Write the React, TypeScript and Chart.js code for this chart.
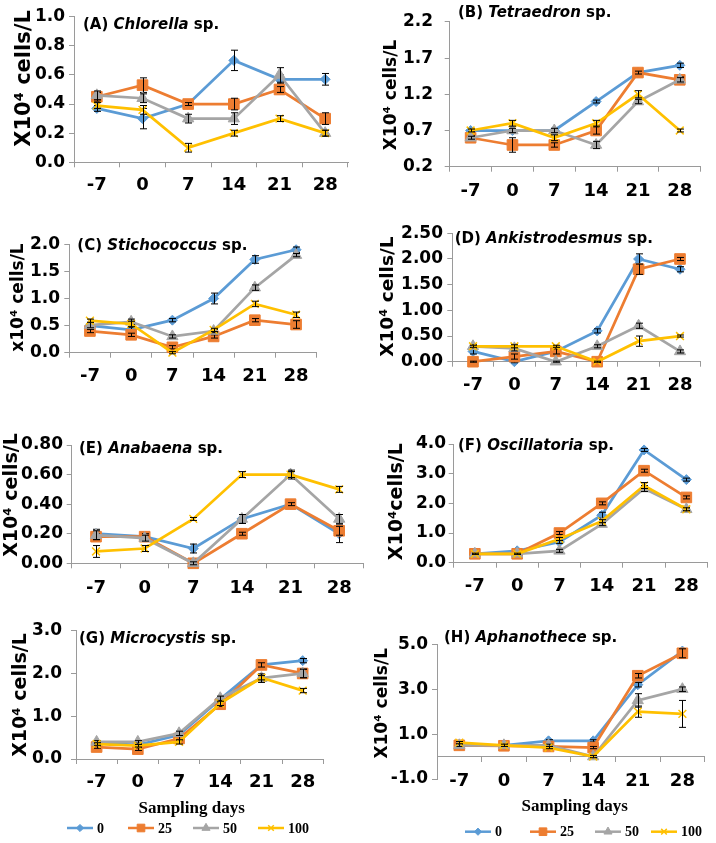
import React, { useEffect, useRef } from 'react';
import { Chart, registerables } from 'chart.js';

Chart.register(...registerables);

// ---------- categories / legend ----------
const days = ['-7', '0', '7', '14', '21', '28'];
const doses = ['0', '25', '50', '100'];

// ---------- (A) Chlorella sp. ----------
const chlorella0 = [0.37, 0.30, 0.40, 0.70, 0.57, 0.57];
const chlorella25 = [0.45, 0.53, 0.40, 0.40, 0.50, 0.30];
const chlorella50 = [0.46, 0.44, 0.30, 0.30, 0.60, 0.20];
const chlorella100 = [0.39, 0.36, 0.10, 0.20, 0.30, 0.20];
const chlorellaErr0 = [0.02, 0.07, 0.01, 0.07, 0.03, 0.04];
const chlorellaErr25 = [0.03, 0.05, 0.01, 0.04, 0.02, 0.04];
const chlorellaErr50 = [0.03, 0.03, 0.03, 0.04, 0.05, 0.02];
const chlorellaErr100 = [0.02, 0.03, 0.03, 0.02, 0.02, 0.02];
const chlorellaTicks = [0, 0.2, 0.4, 0.6, 0.8, 1.0];

// ---------- (B) Tetraedron sp. ----------
const tetraedron0 = [0.70, 0.70, 0.70, 1.10, 1.50, 1.60];
const tetraedron25 = [0.60, 0.50, 0.50, 0.70, 1.50, 1.40];
const tetraedron50 = [0.60, 0.70, 0.70, 0.50, 1.10, 1.40];
const tetraedron100 = [0.70, 0.80, 0.60, 0.80, 1.20, 0.70];
const tetraedronErr0 = [0.02, 0.02, 0.02, 0.02, 0.02, 0.03];
const tetraedronErr25 = [0.03, 0.10, 0.03, 0.05, 0.02, 0.04];
const tetraedronErr50 = [0.02, 0.03, 0.03, 0.05, 0.03, 0.03];
const tetraedronErr100 = [0.02, 0.04, 0.04, 0.04, 0.05, 0.02];
const tetraedronTicks = [0.2, 0.7, 1.2, 1.7, 2.2];

// ---------- (C) Stichococcus sp. ----------
const stichococcus0 = [0.50, 0.42, 0.60, 1.00, 1.72, 1.90];
const stichococcus25 = [0.40, 0.33, 0.10, 0.30, 0.60, 0.52];
const stichococcus50 = [0.51, 0.57, 0.30, 0.40, 1.20, 1.80];
const stichococcus100 = [0.59, 0.53, 0.00, 0.42, 0.90, 0.70];
const stichococcusErr0 = [0.05, 0.05, 0.03, 0.10, 0.07, 0.05];
const stichococcusErr25 = [0.03, 0.03, 0.03, 0.03, 0.03, 0.07];
const stichococcusErr50 = [0.05, 0.05, 0.03, 0.03, 0.05, 0.03];
const stichococcusErr100 = [0.03, 0.05, 0.02, 0.03, 0.05, 0.05];
const stichococcusTicks = [0, 0.5, 1.0, 1.5, 2.0];

// ---------- (D) Ankistrodesmus sp. ----------
const ankistrodesmus0 = [0.20, 0.00, 0.20, 0.60, 2.00, 1.80];
const ankistrodesmus25 = [0.00, 0.10, 0.20, 0.00, 1.80, 2.00];
const ankistrodesmus50 = [0.30, 0.26, 0.00, 0.30, 0.70, 0.20];
const ankistrodesmus100 = [0.30, 0.30, 0.30, 0.00, 0.40, 0.50];
const ankistrodesmusErr0 = [0.05, 0.02, 0.02, 0.04, 0.10, 0.05];
const ankistrodesmusErr25 = [0.01, 0.05, 0.05, 0.01, 0.10, 0.03];
const ankistrodesmusErr50 = [0.03, 0.05, 0.01, 0.03, 0.05, 0.03];
const ankistrodesmusErr100 = [0.02, 0.03, 0.02, 0.01, 0.10, 0.02];
const ankistrodesmusTicks = [0, 0.5, 1.0, 1.5, 2.0, 2.5];

// ---------- (E) Anabaena sp. ----------
const anabaena0 = [0.20, 0.18, 0.10, 0.30, 0.40, 0.20];
const anabaena25 = [0.18, 0.18, 0.00, 0.20, 0.40, 0.22];
const anabaena50 = [0.19, 0.17, 0.00, 0.30, 0.60, 0.30];
const anabaena100 = [0.08, 0.10, 0.30, 0.60, 0.60, 0.50];
const anabaenaErr0 = [0.03, 0.02, 0.03, 0.03, 0.02, 0.06];
const anabaenaErr25 = [0.02, 0.02, 0.01, 0.01, 0.01, 0.03];
const anabaenaErr50 = [0.03, 0.02, 0.01, 0.03, 0.03, 0.03];
const anabaenaErr100 = [0.04, 0.02, 0.01, 0.02, 0.02, 0.02];
const anabaenaTicks = [0, 0.2, 0.4, 0.6, 0.8];

// ---------- (F) Oscillatoria sp. ----------
const oscillatoria0 = [0.30, 0.40, 0.70, 1.60, 3.80, 2.80];
const oscillatoria25 = [0.30, 0.30, 1.00, 2.00, 3.10, 2.20];
const oscillatoria50 = [0.30, 0.30, 0.40, 1.30, 2.50, 1.80];
const oscillatoria100 = [0.30, 0.30, 0.80, 1.40, 2.60, 1.80];
const oscillatoriaErr0 = [0.03, 0.03, 0.05, 0.10, 0.05, 0.05];
const oscillatoriaErr25 = [0.03, 0.03, 0.05, 0.05, 0.05, 0.05];
const oscillatoriaErr50 = [0.02, 0.02, 0.05, 0.05, 0.10, 0.05];
const oscillatoriaErr100 = [0.02, 0.02, 0.05, 0.05, 0.10, 0.05];
const oscillatoriaTicks = [0, 1, 2, 3, 4];

// ---------- (G) Microcystis sp. ----------
const microcystis0 = [0.37, 0.33, 0.56, 1.40, 2.20, 2.30];
const microcystis25 = [0.28, 0.23, 0.48, 1.28, 2.20, 2.00];
const microcystis50 = [0.40, 0.40, 0.60, 1.42, 1.89, 2.00];
const microcystis100 = [0.35, 0.31, 0.40, 1.30, 1.90, 1.60];
const microcystisErr0 = [0.03, 0.03, 0.05, 0.05, 0.05, 0.05];
const microcystisErr25 = [0.03, 0.03, 0.05, 0.05, 0.05, 0.10];
const microcystisErr50 = [0.03, 0.03, 0.05, 0.05, 0.10, 0.10];
const microcystisErr100 = [0.03, 0.03, 0.05, 0.05, 0.05, 0.05];
const microcystisTicks = [0, 1, 2, 3];

// ---------- (H) Aphanothece sp. ----------
const aphanothece0 = [0.50, 0.50, 0.70, 0.70, 3.20, 4.70];
const aphanothece25 = [0.50, 0.48, 0.45, 0.40, 3.60, 4.60];
const aphanothece50 = [0.50, 0.50, 0.50, 0.00, 2.50, 3.00];
const aphanothece100 = [0.62, 0.50, 0.40, 0.00, 2.00, 1.90];
const aphanotheceErr0 = [0.05, 0.05, 0.05, 0.05, 0.10, 0.10];
const aphanotheceErr25 = [0.05, 0.05, 0.05, 0.05, 0.10, 0.20];
const aphanotheceErr50 = [0.05, 0.05, 0.05, 0.05, 0.30, 0.10];
const aphanotheceErr100 = [0.05, 0.05, 0.05, 0.05, 0.25, 0.60];
const aphanotheceTicks = [-1, 1, 3, 5];

// ---------- styles ----------
const AXIS = '#9a9a9a';
const SANS = '"DejaVu Sans", sans-serif';
const SERIF = '"Liberation Serif", "Times New Roman", serif';
const seriesStyles = [
  { color: '#5B9BD5', pointStyle: 'rectRot', radius: 5, bw: 1 },
  { color: '#ED7D31', pointStyle: 'rect', radius: 7.5, bw: 1 },
  { color: '#A5A5A5', pointStyle: 'triangle', radius: 6.5, bw: 1 },
  { color: '#FFC000', pointStyle: 'crossRot', radius: 5.5, bw: 1.5 },
];

type PanelCfg = {
  letter: string; genus: string; yTitle: string;
  series: number[][]; errors: number[][]; ticks: number[]; decimals: number;
  box: number[]; plot: { left: number; right: number; top: number; bottom: number };
  yTickPad: number; xTickPad: number; title: number[]; yTitlePos: number[];
  xTitle?: number[]; legendY?: number; legendX?: number[]; zeroLine?: boolean;
};

const panels: PanelCfg[] = [
  { letter: '(A) ', genus: 'Chlorella', yTitle: 'X10⁴ cells/L',
    series: [chlorella0, chlorella25, chlorella50, chlorella100],
    errors: [chlorellaErr0, chlorellaErr25, chlorellaErr50, chlorellaErr100],
    ticks: chlorellaTicks, decimals: 1,
    box: [0, 0, 358, 200], plot: { left: 74, right: 348, top: 16.7, bottom: 162.3 },
    yTickPad: 4, xTickPad: 7, title: [83, 29.3], yTitlePos: [25, 78.5, 21] },
  { letter: '(B) ', genus: 'Tetraedron', yTitle: 'X10⁴ cells/L',
    series: [tetraedron0, tetraedron25, tetraedron50, tetraedron100],
    errors: [tetraedronErr0, tetraedronErr25, tetraedronErr50, tetraedronErr100],
    ticks: tetraedronTicks, decimals: 1,
    box: [358, 0, 358, 200], plot: { left: 449.7, right: 700.7, top: 13.3, bottom: 166.7 },
    yTickPad: 11.7, xTickPad: 9.2, title: [458, 16.7], yTitlePos: [392, 95, 17] },
  { letter: '(C) ', genus: 'Stichococcus', yTitle: 'x10⁴ cells/L',
    series: [stichococcus0, stichococcus25, stichococcus50, stichococcus100],
    errors: [stichococcusErr0, stichococcusErr25, stichococcusErr50, stichococcusErr100],
    ticks: stichococcusTicks, decimals: 1,
    box: [0, 200, 358, 200], plot: { left: 69.3, right: 316.7, top: 244.3, bottom: 352.7 },
    yTickPad: 4.3, xTickPad: 8.2, title: [77.3, 250], yTitlePos: [18.3, 297.5, 17] },
  { letter: '(D) ', genus: 'Ankistrodesmus', yTitle: 'X10⁴ cells/L',
    series: [ankistrodesmus0, ankistrodesmus25, ankistrodesmus50, ankistrodesmus100],
    errors: [ankistrodesmusErr0, ankistrodesmusErr25, ankistrodesmusErr50, ankistrodesmusErr100],
    ticks: ankistrodesmusTicks, decimals: 2,
    box: [358, 200, 358, 200], plot: { left: 452.3, right: 700.7, top: 233.3, bottom: 361.7 },
    yTickPad: 4.3, xTickPad: 7.5, title: [454.7, 243.3], yTitlePos: [387.7, 296.7, 18.5] },
  { letter: '(E) ', genus: 'Anabaena', yTitle: 'X10⁴ cells/L',
    series: [anabaena0, anabaena25, anabaena50, anabaena100],
    errors: [anabaenaErr0, anabaenaErr25, anabaenaErr50, anabaenaErr100],
    ticks: anabaenaTicks, decimals: 2,
    box: [0, 400, 372, 210], plot: { left: 71.7, right: 366, top: 445, bottom: 563.3 },
    yTickPad: 3.7, xTickPad: 8.9, title: [79, 452.7], yTitlePos: [11.7, 495, 19] },
  { letter: '(F) ', genus: 'Oscillatoria', yTitle: 'X10⁴cells/L',
    series: [oscillatoria0, oscillatoria25, oscillatoria50, oscillatoria100],
    errors: [oscillatoriaErr0, oscillatoriaErr25, oscillatoriaErr50, oscillatoriaErr100],
    ticks: oscillatoriaTicks, decimals: 1,
    box: [358, 400, 358, 210], plot: { left: 453.7, right: 711.5, top: 444, bottom: 562.7 },
    yTickPad: 2.7, xTickPad: 8.2, title: [458, 450], yTitlePos: [397.5, 501.7, 19] },
  { letter: '(G) ', genus: 'Microcystis', yTitle: 'X10⁴ cells/L',
    series: [microcystis0, microcystis25, microcystis50, microcystis100],
    errors: [microcystisErr0, microcystisErr25, microcystisErr50, microcystisErr100],
    ticks: microcystisTicks, decimals: 1,
    box: [0, 610, 358, 233], plot: { left: 76, right: 323.3, top: 630.7, bottom: 759 },
    yTickPad: 9, xTickPad: 7.5, title: [79, 643.3], yTitlePos: [20.8, 695, 19],
    xTitle: [191.7, 809], legendY: 828, legendX: [67, 128, 193, 258] },
  { letter: '(H) ', genus: 'Aphanothece', yTitle: 'X10⁴ cells/L',
    series: [aphanothece0, aphanothece25, aphanothece50, aphanothece100],
    errors: [aphanotheceErr0, aphanotheceErr25, aphanotheceErr50, aphanotheceErr100],
    ticks: aphanotheceTicks, decimals: 1,
    box: [358, 610, 358, 233], plot: { left: 437, right: 704.7, top: 644.3, bottom: 779 },
    yTickPad: 4, xTickPad: -8.1, title: [444, 641.7], yTitlePos: [383, 703.3, 17],
    xTitle: [574.7, 806.7], legendY: 831.7, legendX: [465, 530, 595, 651], zeroLine: true },
];

function drawMarker(ctx: CanvasRenderingContext2D, style: string, x: number, y: number, r: number, color: string, bw: number) {
  ctx.save();
  ctx.fillStyle = color;
  ctx.strokeStyle = color;
  ctx.lineWidth = bw;
  ctx.beginPath();
  if (style === 'rectRot') {
    ctx.moveTo(x, y - r); ctx.lineTo(x + r, y); ctx.lineTo(x, y + r); ctx.lineTo(x - r, y); ctx.closePath();
    ctx.fill(); ctx.stroke();
  } else if (style === 'rect') {
    const s = r * Math.SQRT1_2;
    ctx.rect(x - s, y - s, 2 * s, 2 * s); ctx.fill(); ctx.stroke();
  } else if (style === 'triangle') {
    ctx.moveTo(x, y - r); ctx.lineTo(x + 0.866 * r, y + 0.5 * r); ctx.lineTo(x - 0.866 * r, y + 0.5 * r); ctx.closePath();
    ctx.fill(); ctx.stroke();
  } else {
    const s = r * Math.SQRT1_2;
    ctx.moveTo(x - s, y - s); ctx.lineTo(x + s, y + s); ctx.moveTo(x + s, y - s); ctx.lineTo(x - s, y + s);
    ctx.stroke();
  }
  ctx.restore();
}

// error bars are drawn right after their own series, so later series cover them
const errorBarPlugin = {
  id: 'errorBars',
  afterDatasetDraw(chart: any, args: any) {
    const ds: any = chart.data.datasets[args.index];
    if (!ds || !ds.errorBars) return;
    const ctx = chart.ctx;
    const ys = chart.scales.y;
    const meta = args.meta;
    ctx.save();
    ctx.strokeStyle = '#000';
    ctx.lineWidth = 1;
    meta.data.forEach((pt: any, j: number) => {
      const v = ds.data[j];
      const e = ds.errorBars[j];
      if (!e) return;
      const x = Math.round(pt.x) + 0.5;
      const y1 = ys.getPixelForValue(v + e);
      const y2 = ys.getPixelForValue(v - e);
      ctx.beginPath();
      ctx.moveTo(x, y1); ctx.lineTo(x, y2);
      ctx.moveTo(x - 3.5, y1); ctx.lineTo(x + 3.5, y1);
      ctx.moveTo(x - 3.5, y2); ctx.lineTo(x + 3.5, y2);
      ctx.stroke();
    });
    ctx.restore();
  },
};

function makeDecor(p: PanelCfg) {
  return {
    id: 'decor',
    afterDraw(chart: any) {
      const ctx: CanvasRenderingContext2D = chart.ctx;
      const [cx, cy] = p.box;
      ctx.save();
      ctx.fillStyle = '#000';
      // panel title with italic genus
      let x = p.title[0] - cx;
      const y = p.title[1] - cy;
      ctx.textAlign = 'left';
      ctx.textBaseline = 'alphabetic';
      const parts: [string, boolean][] = [[p.letter, false], [p.genus, true], [' sp.', false]];
      for (const [t, it] of parts) {
        ctx.font = `${it ? 'italic ' : ''}bold 15px ${SANS}`;
        ctx.fillText(t, x, y);
        x += ctx.measureText(t).width;
      }
      // y-axis title
      ctx.save();
      ctx.translate(p.yTitlePos[0] - cx, p.yTitlePos[1] - cy);
      ctx.rotate(-Math.PI / 2);
      ctx.font = `bold ${p.yTitlePos[2]}px ${SANS}`;
      ctx.textAlign = 'center';
      ctx.textBaseline = 'middle';
      ctx.fillText(p.yTitle, 0, 0);
      ctx.restore();
      // x-axis title
      if (p.xTitle) {
        ctx.font = `bold 17px ${SERIF}`;
        ctx.textAlign = 'center';
        ctx.textBaseline = 'middle';
        ctx.fillText('Sampling days', p.xTitle[0] - cx, p.xTitle[1] - cy);
      }
      // legend
      if (p.legendX && p.legendY !== undefined) {
        const ly = p.legendY - cy;
        doses.forEach((d, i) => {
          const st = seriesStyles[i];
          const lx = p.legendX![i] - cx;
          ctx.save();
          ctx.strokeStyle = st.color;
          ctx.lineWidth = 2.5;
          ctx.beginPath();
          ctx.moveTo(lx, ly); ctx.lineTo(lx + 26, ly);
          ctx.stroke();
          ctx.restore();
          drawMarker(ctx, st.pointStyle, lx + 13, ly, st.radius * 0.72, st.color, st.bw);
          ctx.font = `bold 14px ${SERIF}`;
          ctx.textAlign = 'left';
          ctx.textBaseline = 'middle';
          ctx.fillStyle = '#000';
          ctx.fillText(d, lx + 30, ly + 1);
        });
      }
      ctx.restore();
    },
  };
}

function Panel({ p }: { p: PanelCfg }) {
  const ref = useRef<HTMLCanvasElement>(null);
  const [cx, cy, cw, ch] = p.box;
  useEffect(() => {
    const yWidth = p.plot.left - cx;
    const xHeight = cy + ch - p.plot.bottom;
    const datasets = p.series.map((vals, i) => {
      const st = seriesStyles[i];
      return {
        label: doses[i],
        data: vals,
        errorBars: p.errors[i],
        borderColor: st.color,
        backgroundColor: st.color,
        pointBackgroundColor: st.color,
        pointBorderColor: st.color,
        pointStyle: st.pointStyle,
        pointRadius: st.radius,
        pointBorderWidth: st.bw,
        borderWidth: 2.75,
        tension: 0,
        clip: false as any,
        order: 3 - i,
      };
    });
    const tickFont = { family: SANS, size: 17, weight: 'bold' as const };
    const xFont = { family: SANS, size: 18, weight: 'bold' as const };
    const yMin = p.ticks[0];
    const scales: any = {};
    if (p.zeroLine) {
      // category labels sit just below the bottom of the value axis
      scales.x = {
        type: 'category',
        axis: 'x',
        offset: true,
        position: { y: yMin },
        grid: { display: false, drawTicks: false },
        border: { display: false },
        ticks: { font: xFont, color: '#000', padding: p.xTickPad, autoSkip: false, maxRotation: 0 },
      };
      // horizontal axis crossing at zero
      scales.x2 = {
        type: 'category',
        axis: 'x',
        offset: true,
        position: { y: 0 },
        grid: { display: true, drawOnChartArea: false, offset: true, tickLength: 5, color: AXIS },
        border: { display: true, color: AXIS, width: 1 },
        ticks: { display: false },
      };
    } else {
      scales.x = {
        type: 'category',
        offset: true,
        position: 'bottom',
        grid: { display: true, drawOnChartArea: false, offset: true, tickLength: 5, color: AXIS },
        border: { display: true, color: AXIS, width: 1 },
        ticks: { font: xFont, color: '#000', padding: p.xTickPad, autoSkip: false, maxRotation: 0 },
        afterFit: (s: any) => { s.height = xHeight; },
      };
    }
    scales.y = {
      type: 'linear',
      position: 'left',
      min: yMin,
      max: p.ticks[p.ticks.length - 1],
      afterBuildTicks: (axis: any) => { axis.ticks = p.ticks.map((v) => ({ value: v })); },
      grid: { display: true, drawOnChartArea: false, tickLength: 5, color: AXIS },
      border: { display: true, color: AXIS, width: 1 },
      ticks: {
        font: tickFont, color: '#000', padding: p.yTickPad,
        callback: (v: any) => Number(v).toFixed(p.decimals),
      },
      afterFit: (s: any) => { s.width = yWidth; },
    };
    const chart = new Chart(ref.current!, {
      type: 'line',
      data: { labels: days, datasets: datasets as any },
      options: {
        responsive: false,
        maintainAspectRatio: false,
        animation: false,
        devicePixelRatio: 1,
        layout: {
          padding: {
            left: 0,
            top: p.plot.top - cy,
            right: cx + cw - p.plot.right,
            bottom: p.zeroLine ? xHeight : 0,
          },
        },
        plugins: { legend: { display: false }, tooltip: { enabled: false }, title: { display: false } },
        scales,
      },
      plugins: [errorBarPlugin, makeDecor(p)],
    });
    return () => chart.destroy();
  }, []);
  return (
    <canvas
      ref={ref}
      width={cw}
      height={ch}
      style={{ position: 'absolute', left: cx, top: cy, width: cw, height: ch }}
    />
  );
}

export default function App() {
  return (
    <div style={{ position: 'absolute', left: 0, top: 0, width: 716, height: 843, background: '#fff', overflow: 'hidden' }}>
      {panels.map((p, i) => (
        <Panel key={i} p={p} />
      ))}
    </div>
  );
}
